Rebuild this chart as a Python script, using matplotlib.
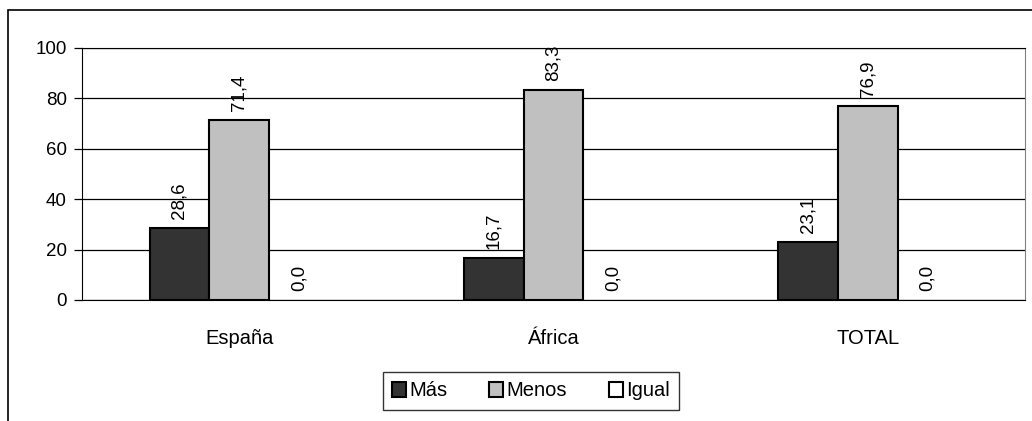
import numpy as np
import matplotlib.pyplot as plt
from matplotlib.patches import Rectangle

plt.rcParams['font.family'] = ['Liberation Sans', 'DejaVu Sans']

# data
categories = ['España', 'África', 'TOTAL']
series = ['Más', 'Menos', 'Igual']
values = {
    'Más': [28.6, 16.7, 23.1],
    'Menos': [71.4, 83.3, 76.9],
    'Igual': [0.0, 0.0, 0.0],
}
colors = ['#333333', '#c0c0c0', '#ffffff']

fig = plt.figure(figsize=(10.32, 4.21), dpi=100)
# outer chart frame (top and left visible, rest clipped)
fig.patches.append(Rectangle((8 / 1032, -0.1), 1.1, (421 - 10) / 421 + 0.1,
                             transform=fig.transFigure, fill=False,
                             edgecolor='black', linewidth=1.2))

ax = fig.add_axes([82 / 1032, 1 - 300 / 421, (1025 - 82) / 1032, (300 - 48) / 421])

x = np.arange(len(categories))
w = 0.19
for i, s in enumerate(series):
    pos = x + (i - 1) * w
    bars = ax.bar(pos, values[s], w, color=colors[i], edgecolor='black',
                  linewidth=1.5, label=s, zorder=3)
    for b, v in zip(bars, values[s]):
        if v == 0:
            b.set_linewidth(0)  # nothing to outline
    for xi, v in zip(pos, values[s]):
        ax.text(xi, v + 3.5, f'{v:.1f}'.replace('.', ','), rotation=90,
                ha='center', va='bottom', fontsize=13.5)

ax.set_xlim(-0.5, 2.5)
ax.set_ylim(0, 100)
ax.set_yticks(np.arange(0, 101, 20))
ax.yaxis.grid(True, color='black', linewidth=0.9)
ax.set_axisbelow(True)
ax.set_xticks(x)
ax.set_xticklabels(categories, fontsize=14.5)
ax.tick_params(axis='x', length=0, pad=21)
ax.tick_params(axis='y', labelsize=13.5, length=6, width=0.9, pad=5)
ax.spines['right'].set_color('#808080')
for sp in ['top', 'left', 'bottom']:
    ax.spines[sp].set_color('black')

h, l = ax.get_legend_handles_labels()
leg = fig.legend(h, l, loc='center', bbox_to_anchor=(531 / 1032, 1 - 391 / 421), ncol=3,
                 fontsize=14.5, frameon=True, fancybox=False, edgecolor='black',
                 handlelength=0.7, handleheight=0.7, handletextpad=0.15,
                 columnspacing=2.1, borderpad=0.45, borderaxespad=0)
leg.get_frame().set_linewidth(1.0)
for p in leg.get_patches():
    p.set_linewidth(1.5)

fig.savefig('out.png', dpi=100)
